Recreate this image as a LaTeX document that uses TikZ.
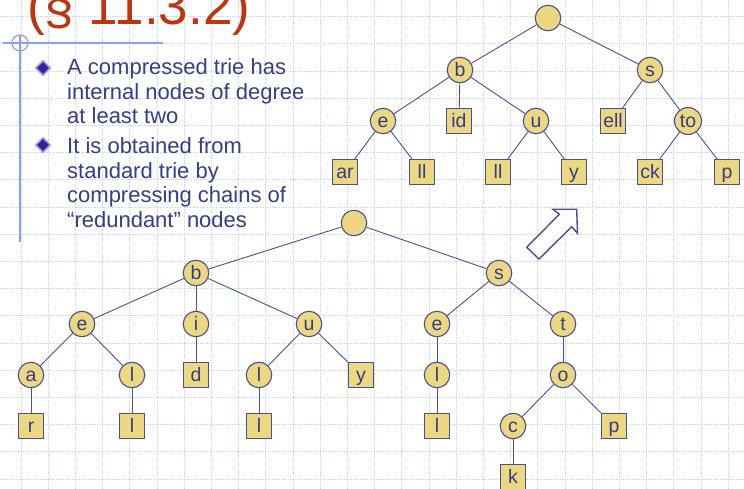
\documentclass[tikz,border=0pt]{standalone}
\usepackage{fontspec}
\setmainfont{Liberation Sans}
\usetikzlibrary{shapes.geometric}
\definecolor{cGrid}{HTML}{C9D3F2}
\definecolor{cEdge}{HTML}{4A4E94}
\definecolor{cFill}{HTML}{EDD882}
\definecolor{cText}{HTML}{363C8C}
\definecolor{cTitle}{HTML}{BE340C}
\definecolor{cRule}{HTML}{8C9EF0}
\definecolor{cBul}{HTML}{3A1E9C}
\definecolor{cBulE}{HTML}{A99AE6}
\tikzset{
  gridline/.style={cGrid,line width=0.8pt,densely dotted},
  inode/.style={circle,draw=cEdge,fill=cFill,line width=1.1pt,inner sep=0pt,
                minimum size=25.5pt,text=cText,text height=17.5pt,text depth=4pt,
                font=\fontsize{19.5}{19.5}\selectfont},
  leaf/.style={rectangle,draw=cEdge,fill=cFill,line width=1.3pt,inner sep=1.5pt,
               minimum size=25pt,text=cText,text height=17.5pt,text depth=4pt,
               font=\fontsize{19.5}{19.5}\selectfont},
  edge/.style={cEdge,line width=0.9pt},
  bullet/.style={diamond,fill=cBul,draw=cBulE,line width=1.6pt,inner sep=0pt,
                 minimum size=15pt},
  bullettext/.style={anchor=base west,inner sep=0pt,align=left,text=cText,
                     font=\fontsize{22}{24.5}\selectfont},
}
\begin{document}
\begin{tikzpicture}[x=1pt,y=-1pt]
  \useasboundingbox (0,0) rectangle (744,489);
  % background grid
  \foreach \i in {0,...,27}{\draw[gridline] ({21+27.2*\i},0) -- ++(0,489);}
  \foreach \i in {0,...,17}{\draw[gridline] (0,{479-27.2*\i}) -- ++(744,0);}
  % title and rules
  \node[anchor=base west,inner sep=0pt,text=cTitle,
        font=\fontsize{53}{53}\selectfont] (title) at (27,25) {(§ 11.3.2)};
  \draw[cRule,line width=1.2pt] (3,43) -- (163,43);
  \draw[cRule,line width=1.2pt] (20,35) -- (20,242);
  \draw[cRule,line width=1.2pt] (20,43) circle (8);
  % bullets (text nodes anchored at the baseline of their last line)
  \node[bullet] (bul1) at (43,68) {};
  \node[bullet] (bul2) at (43,145) {};
  \node[bullettext] (txt1) at (67,124) {A compressed trie has\\internal nodes of degree\\at least two};
  \node[bullettext] (txt2) at (67,227) {It is obtained from\\standard trie by\\compressing chains of\\“redundant” nodes};
  % compressed trie
  \foreach \n/\t/\x/\y in {cRoot//548/18, cb/b/460/70, cs/s/650/70, ce/e/383/121,
      cu/u/536/121, cto/to/688/121}
    {\node[inode] (\n) at (\x,\y) {\t};}
  \foreach \n/\t/\x/\y in {cid/id/459/121, cell/ell/613/121, car/ar/345/172,
      clla/ll/422/172, cllb/ll/498/172, cy/y/574/172, cck/ck/650/172, cp/p/727/172}
    {\node[leaf] (\n) at (\x,\y) {\t};}
  \foreach \a/\b in {cRoot/cb, cRoot/cs, cb/ce, cb/cid, cb/cu, ce/car, ce/clla,
      cu/cllb, cu/cy, cs/cell, cs/cto, cto/cck, cto/cp}
    {\draw[edge] (\a) -- (\b);}
  % standard trie
  \foreach \n/\t/\x/\y in {sRoot//354/223, sb/b/196/273, ss/s/499/273,
      se/e/82/324, si/i/196/324, su/u/309/324, sea/e/437/324, st/t/563/324,
      sa/a/31/375, sla/l/132/375, slb/l/259/375, slc/l/437/375, so/o/563/375,
      sc/c/513/426}
    {\node[inode] (\n) at (\x,\y) {\t};}
  \foreach \n/\t/\x/\y in {sd/d/196/375, sy/y/361/375, sr/r/31/426,
      sld/l/132/426, sle/l/259/426, slf/l/437/426, sp/p/614/426, sk/k/513/477}
    {\node[leaf] (\n) at (\x,\y) {\t};}
  \foreach \a/\b in {sRoot/sb, sRoot/ss, sb/se, sb/si, sb/su, se/sa, se/sla,
      si/sd, su/slb, su/sy, sa/sr, sla/sld, slb/sle, ss/sea, ss/st, sea/slc,
      slc/slf, st/so, so/sc, so/sp, sc/sk}
    {\draw[edge] (\a) -- (\b);}
  % hollow arrow
  \draw[cEdge,line width=1.4pt,fill=white,line join=miter]
    (526.7,247.3) -- (559.3,214.3) -- (553,209.3) -- (576.7,209.3)
    -- (577.5,233.3) -- (571.7,226.7) -- (539,259) -- cycle;
\end{tikzpicture}
\end{document}
